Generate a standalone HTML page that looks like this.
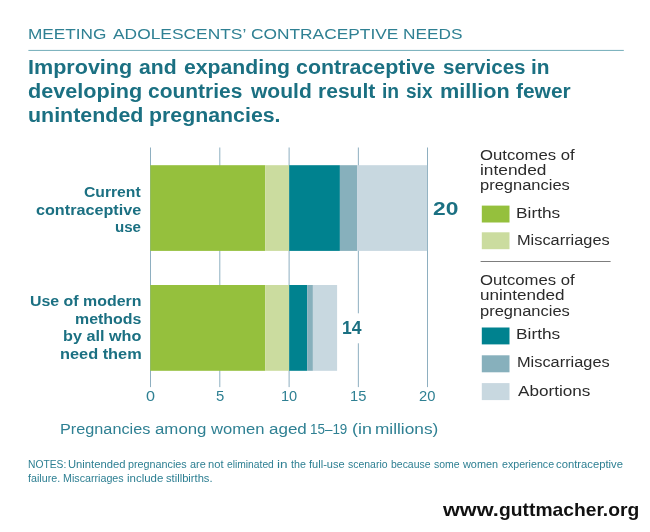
<!DOCTYPE html>
<html><head><meta charset="utf-8">
<style>
html,body{margin:0;padding:0;background:#fff;}
body{width:650px;height:532px;position:relative;overflow:hidden;font-family:"Liberation Sans",sans-serif;}
.t{position:absolute;white-space:nowrap;transform-origin:0 0;}
#tx{position:absolute;left:0;top:0;width:650px;height:532px;will-change:transform;}
.a{position:absolute;}
</style></head><body>
<svg class="a" style="left:0;top:0" width="650" height="532" viewBox="0 0 650 532">
<rect x="28.4" y="49.9" width="595.4" height="1.1" fill="#7fb4bf"/>
<g fill="#8eafc0">
<rect x="150" y="147.5" width="1" height="239.6"/>
<rect x="219.3" y="147.5" width="1" height="239.6"/>
<rect x="288.6" y="147.5" width="1" height="239.6"/>
<rect x="357.85" y="147.5" width="1" height="239.6"/>
<rect x="427" y="147.5" width="1" height="239.6"/>
</g>
<rect x="339" y="313.3" width="28" height="30" fill="#fff"/>
<g>
<rect x="150.3" y="165.2" width="115" height="85.7" fill="#95c03d"/>
<rect x="265.3" y="165.2" width="23.9" height="85.7" fill="#cbdc9f"/>
<rect x="289.2" y="165.2" width="50.7" height="85.7" fill="#00828f"/>
<rect x="339.9" y="165.2" width="17.2" height="85.7" fill="#87b0bc"/>
<rect x="357.1" y="165.2" width="70" height="85.7" fill="#c8d8e0"/>
<rect x="150.3" y="285" width="115" height="85.8" fill="#95c03d"/>
<rect x="265.3" y="285" width="23.9" height="85.8" fill="#cbdc9f"/>
<rect x="289.2" y="285" width="18" height="85.8" fill="#00828f"/>
<rect x="307.2" y="285" width="5.7" height="85.8" fill="#87b0bc"/>
<rect x="312.9" y="285" width="24.2" height="85.8" fill="#c8d8e0"/>
</g>
<rect x="481.8" y="205.6" width="27.7" height="16.9" fill="#95c03d"/>
<rect x="481.8" y="232.3" width="27.7" height="16.9" fill="#cbdc9f"/>
<rect x="480.6" y="261" width="130" height="1" fill="#7d7d7d"/>
<rect x="481.8" y="327.5" width="27.7" height="16.9" fill="#00828f"/>
<rect x="481.8" y="355.3" width="27.7" height="17" fill="#87b0bc"/>
<rect x="481.8" y="383.1" width="27.7" height="17" fill="#c8d8e0"/>
</svg>
<div id="tx">
<div class="t" style="left:28.10px;top:24.96px;font-size:15.4px;line-height:18px;font-weight:normal;color:#2f8093;transform:scaleX(1.1188)">MEETING</div>
<div class="t" style="left:112.60px;top:24.96px;font-size:15.4px;line-height:18px;font-weight:normal;color:#2f8093;transform:scaleX(1.1291)">ADOLESCENTS’</div>
<div class="t" style="left:251.36px;top:24.96px;font-size:15.4px;line-height:18px;font-weight:normal;color:#2f8093;transform:scaleX(1.1259)">CONTRACEPTIVE</div>
<div class="t" style="left:403.30px;top:24.96px;font-size:15.4px;line-height:18px;font-weight:normal;color:#2f8093;transform:scaleX(1.1216)">NEEDS</div>
<div class="t" style="left:28.47px;top:55.07px;font-size:20.3px;line-height:24px;font-weight:bold;color:#1b7082;transform:scaleX(1.0628)">Improving</div>
<div class="t" style="left:139.18px;top:55.07px;font-size:20.3px;line-height:24px;font-weight:bold;color:#1b7082;transform:scaleX(1.0453)">and</div>
<div class="t" style="left:183.72px;top:55.07px;font-size:20.3px;line-height:24px;font-weight:bold;color:#1b7082;transform:scaleX(1.0458)">expanding</div>
<div class="t" style="left:295.91px;top:55.07px;font-size:20.3px;line-height:24px;font-weight:bold;color:#1b7082;transform:scaleX(1.0552)">contraceptive</div>
<div class="t" style="left:442.74px;top:55.07px;font-size:20.3px;line-height:24px;font-weight:bold;color:#1b7082;transform:scaleX(1.0169)">services</div>
<div class="t" style="left:531.36px;top:55.07px;font-size:20.3px;line-height:24px;font-weight:bold;color:#1b7082;transform:scaleX(1.0295)">in</div>
<div class="t" style="left:28.30px;top:79.17px;font-size:20.3px;line-height:24px;font-weight:bold;color:#1b7082;transform:scaleX(1.0676)">developing</div>
<div class="t" style="left:148.42px;top:79.17px;font-size:20.3px;line-height:24px;font-weight:bold;color:#1b7082;transform:scaleX(1.0340)">countries</div>
<div class="t" style="left:251.00px;top:79.17px;font-size:20.3px;line-height:24px;font-weight:bold;color:#1b7082;transform:scaleX(1.0376)">would</div>
<div class="t" style="left:317.90px;top:79.17px;font-size:20.3px;line-height:24px;font-weight:bold;color:#1b7082;transform:scaleX(1.0381)">result</div>
<div class="t" style="left:382.37px;top:79.17px;font-size:20.3px;line-height:24px;font-weight:bold;color:#1b7082;transform:scaleX(0.9508)">in</div>
<div class="t" style="left:406.30px;top:79.17px;font-size:20.3px;line-height:24px;font-weight:bold;color:#1b7082;transform:scaleX(0.9394)">six</div>
<div class="t" style="left:440.07px;top:79.17px;font-size:20.3px;line-height:24px;font-weight:bold;color:#1b7082;transform:scaleX(1.0677)">million</div>
<div class="t" style="left:516.34px;top:79.17px;font-size:20.3px;line-height:24px;font-weight:bold;color:#1b7082;transform:scaleX(1.0324)">fewer</div>
<div class="t" style="left:27.98px;top:103.07px;font-size:20.3px;line-height:24px;font-weight:bold;color:#1b7082;transform:scaleX(1.0557)">unintended</div>
<div class="t" style="left:149.09px;top:103.07px;font-size:20.3px;line-height:24px;font-weight:bold;color:#1b7082;transform:scaleX(1.0514)">pregnancies.</div>
<div class="t" style="left:84.03px;top:184.22px;font-size:13.8px;line-height:17px;font-weight:bold;color:#1b7082;transform:scaleX(1.1371)">Current</div>
<div class="t" style="left:36.01px;top:201.82px;font-size:13.8px;line-height:17px;font-weight:bold;color:#1b7082;transform:scaleX(1.1718)">contraceptive</div>
<div class="t" style="left:115.18px;top:219.22px;font-size:13.8px;line-height:17px;font-weight:bold;color:#1b7082;transform:scaleX(1.0933)">use</div>
<div class="t" style="left:30.13px;top:293.22px;font-size:13.8px;line-height:17px;font-weight:bold;color:#1b7082;transform:scaleX(1.1537)">Use of modern</div>
<div class="t" style="left:74.85px;top:310.82px;font-size:13.8px;line-height:17px;font-weight:bold;color:#1b7082;transform:scaleX(1.1536)">methods</div>
<div class="t" style="left:62.83px;top:328.22px;font-size:13.8px;line-height:17px;font-weight:bold;color:#1b7082;transform:scaleX(1.1739)">by all who</div>
<div class="t" style="left:59.82px;top:346.22px;font-size:13.8px;line-height:17px;font-weight:bold;color:#1b7082;transform:scaleX(1.1836)">need them</div>
<div class="t" style="left:433.48px;top:197.79px;font-size:18.5px;line-height:22px;font-weight:bold;color:#1b7082;transform:scaleX(1.2316)">20</div>
<div class="t" style="left:341.51px;top:316.59px;font-size:18.5px;line-height:22px;font-weight:bold;color:#1b7082;transform:scaleX(0.9506)">14</div>
<div class="t" style="left:146.02px;top:387.95px;font-size:14.0px;line-height:17px;font-weight:normal;color:#2f8093;transform:scaleX(1.1556)">0</div>
<div class="t" style="left:215.60px;top:387.95px;font-size:14.0px;line-height:17px;font-weight:normal;color:#2f8093;transform:scaleX(1.0615)">5</div>
<div class="t" style="left:281.36px;top:387.95px;font-size:14.0px;line-height:17px;font-weight:normal;color:#2f8093;transform:scaleX(1.0429)">10</div>
<div class="t" style="left:350.45px;top:387.95px;font-size:14.0px;line-height:17px;font-weight:normal;color:#2f8093;transform:scaleX(1.0500)">15</div>
<div class="t" style="left:419.21px;top:387.95px;font-size:14.0px;line-height:17px;font-weight:normal;color:#2f8093;transform:scaleX(1.0526)">20</div>
<div class="t" style="left:60.15px;top:420.55px;font-size:14.0px;line-height:17px;font-weight:normal;color:#2f8093;transform:scaleX(1.1605)">Pregnancies</div>
<div class="t" style="left:154.80px;top:420.55px;font-size:14.0px;line-height:17px;font-weight:normal;color:#2f8093;transform:scaleX(1.2024)">among</div>
<div class="t" style="left:211.10px;top:420.55px;font-size:14.0px;line-height:17px;font-weight:normal;color:#2f8093;transform:scaleX(1.1842)">women</div>
<div class="t" style="left:269.09px;top:420.55px;font-size:14.0px;line-height:17px;font-weight:normal;color:#2f8093;transform:scaleX(1.2134)">aged</div>
<div class="t" style="left:310.34px;top:420.55px;font-size:14.0px;line-height:17px;font-weight:normal;color:#2f8093;transform:scaleX(0.9584)">15–19</div>
<div class="t" style="left:352.14px;top:420.55px;font-size:14.0px;line-height:17px;font-weight:normal;color:#2f8093;transform:scaleX(1.2786)">(in</div>
<div class="t" style="left:374.97px;top:420.55px;font-size:14.0px;line-height:17px;font-weight:normal;color:#2f8093;transform:scaleX(1.2323)">millions)</div>
<div class="t" style="left:480.10px;top:146.65px;font-size:14.0px;line-height:17px;font-weight:normal;color:#2b2b2b;transform:scaleX(1.1937)">Outcomes of</div>
<div class="t" style="left:479.76px;top:161.95px;font-size:14.0px;line-height:17px;font-weight:normal;color:#2b2b2b;transform:scaleX(1.2367)">intended</div>
<div class="t" style="left:479.82px;top:177.45px;font-size:14.0px;line-height:17px;font-weight:normal;color:#2b2b2b;transform:scaleX(1.1773)">pregnancies</div>
<div class="t" style="left:516.46px;top:205.25px;font-size:14.0px;line-height:17px;font-weight:normal;color:#2b2b2b;transform:scaleX(1.2353)">Births</div>
<div class="t" style="left:516.54px;top:232.35px;font-size:14.0px;line-height:17px;font-weight:normal;color:#2b2b2b;transform:scaleX(1.1677)">Miscarriages</div>
<div class="t" style="left:480.10px;top:271.55px;font-size:14.0px;line-height:17px;font-weight:normal;color:#2b2b2b;transform:scaleX(1.1937)">Outcomes of</div>
<div class="t" style="left:480.18px;top:286.95px;font-size:14.0px;line-height:17px;font-weight:normal;color:#2b2b2b;transform:scaleX(1.2207)">unintended</div>
<div class="t" style="left:479.82px;top:302.55px;font-size:14.0px;line-height:17px;font-weight:normal;color:#2b2b2b;transform:scaleX(1.1773)">pregnancies</div>
<div class="t" style="left:516.46px;top:325.85px;font-size:14.0px;line-height:17px;font-weight:normal;color:#2b2b2b;transform:scaleX(1.2353)">Births</div>
<div class="t" style="left:516.54px;top:354.35px;font-size:14.0px;line-height:17px;font-weight:normal;color:#2b2b2b;transform:scaleX(1.1677)">Miscarriages</div>
<div class="t" style="left:517.70px;top:382.55px;font-size:14.0px;line-height:17px;font-weight:normal;color:#2b2b2b;transform:scaleX(1.2239)">Abortions</div>
<div class="t" style="left:27.69px;top:456.88px;font-size:11.3px;line-height:14px;font-weight:normal;color:#2d7f92;transform:scaleX(0.9100)">NOTES:</div>
<div class="t" style="left:67.75px;top:456.88px;font-size:11.3px;line-height:14px;font-weight:normal;color:#2d7f92;transform:scaleX(0.9938)">Unintended</div>
<div class="t" style="left:127.78px;top:456.88px;font-size:11.3px;line-height:14px;font-weight:normal;color:#2d7f92;transform:scaleX(0.9544)">pregnancies</div>
<div class="t" style="left:189.72px;top:456.88px;font-size:11.3px;line-height:14px;font-weight:normal;color:#2d7f92;transform:scaleX(0.9639)">are</div>
<div class="t" style="left:207.86px;top:456.88px;font-size:11.3px;line-height:14px;font-weight:normal;color:#2d7f92;transform:scaleX(0.9867)">not</div>
<div class="t" style="left:227.15px;top:456.88px;font-size:11.3px;line-height:14px;font-weight:normal;color:#2d7f92;transform:scaleX(0.9095)">eliminated</div>
<div class="t" style="left:276.70px;top:456.88px;font-size:11.3px;line-height:14px;font-weight:normal;color:#2d7f92;transform:scaleX(1.2000)">in</div>
<div class="t" style="left:290.56px;top:456.88px;font-size:11.3px;line-height:14px;font-weight:normal;color:#2d7f92;transform:scaleX(0.9467)">the</div>
<div class="t" style="left:308.96px;top:456.88px;font-size:11.3px;line-height:14px;font-weight:normal;color:#2d7f92;transform:scaleX(0.9790)">full-use</div>
<div class="t" style="left:348.14px;top:456.88px;font-size:11.3px;line-height:14px;font-weight:normal;color:#2d7f92;transform:scaleX(0.9269)">scenario</div>
<div class="t" style="left:390.91px;top:456.88px;font-size:11.3px;line-height:14px;font-weight:normal;color:#2d7f92;transform:scaleX(0.9253)">because</div>
<div class="t" style="left:433.74px;top:456.88px;font-size:11.3px;line-height:14px;font-weight:normal;color:#2d7f92;transform:scaleX(0.9283)">some</div>
<div class="t" style="left:463.00px;top:456.88px;font-size:11.3px;line-height:14px;font-weight:normal;color:#2d7f92;transform:scaleX(0.9650)">women</div>
<div class="t" style="left:501.53px;top:456.88px;font-size:11.3px;line-height:14px;font-weight:normal;color:#2d7f92;transform:scaleX(0.9419)">experience</div>
<div class="t" style="left:556.30px;top:456.88px;font-size:11.3px;line-height:14px;font-weight:normal;color:#2d7f92;transform:scaleX(0.9962)">contraceptive</div>
<div class="t" style="left:28.36px;top:471.08px;font-size:11.3px;line-height:14px;font-weight:normal;color:#2d7f92;transform:scaleX(0.9477)">failure.</div>
<div class="t" style="left:63.35px;top:471.08px;font-size:11.3px;line-height:14px;font-weight:normal;color:#2d7f92;transform:scaleX(0.9472)">Miscarriages</div>
<div class="t" style="left:126.74px;top:471.08px;font-size:11.3px;line-height:14px;font-weight:normal;color:#2d7f92;transform:scaleX(1.0145)">include</div>
<div class="t" style="left:165.51px;top:471.08px;font-size:11.3px;line-height:14px;font-weight:normal;color:#2d7f92;transform:scaleX(0.9890)">stillbirths.</div>
<div class="t" style="left:443.10px;top:499.36px;font-size:18.6px;line-height:22px;font-weight:bold;color:#111;transform:scaleX(1.1656)">www.</div>
<div class="t" style="left:498.52px;top:499.36px;font-size:18.6px;line-height:22px;font-weight:bold;color:#111;transform:scaleX(1.0364)">guttmacher.org</div>
</div>
</body></html>
